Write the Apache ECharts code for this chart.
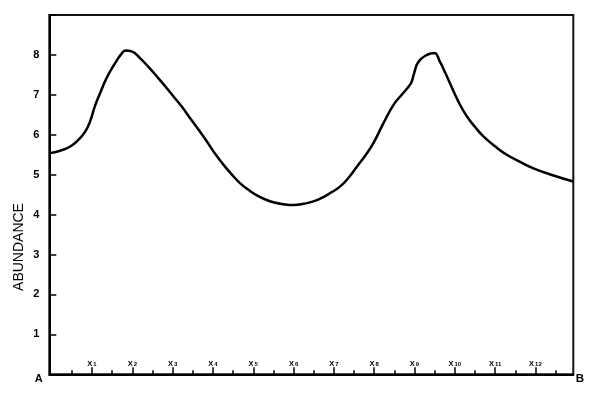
<!DOCTYPE html>
<html>
<head>
<meta charset="utf-8">
<script src="https://cdn.jsdelivr.net/npm/echarts@6/dist/echarts.min.js"></script>
<style>html,body{margin:0;padding:0;background:#fff}#c{width:600px;height:399px}</style>
</head>
<body>
<div id="c"></div>
<script>
// Curve samples (position along A–B, abundance)
const xs = [-0.06, 0.21, 0.45, 0.66, 0.83, 0.95, 1.07, 1.20, 1.36, 1.57, 1.74, 1.84, 1.98, 2.19, 2.40, 2.61, 2.82, 3.02, 3.23, 3.43, 3.64, 3.85, 4.05, 4.26, 4.47, 4.67, 4.88, 5.09, 5.30, 5.50, 5.75, 6.00, 6.25, 6.49, 6.70, 6.91, 7.15, 7.37, 7.57, 7.78, 7.98, 8.23, 8.48, 8.70, 8.85, 8.93, 8.99, 9.10, 9.31, 9.49, 9.63, 9.76, 9.88, 10.09, 10.30, 10.50, 10.71, 11.00, 11.29, 11.62, 11.95, 12.45, 12.94];
const ys = [5.54, 5.60, 5.70, 5.87, 6.08, 6.33, 6.71, 7.04, 7.42, 7.79, 8.04, 8.11, 8.09, 7.92, 7.70, 7.46, 7.21, 6.96, 6.70, 6.42, 6.13, 5.83, 5.53, 5.25, 5.00, 4.79, 4.62, 4.48, 4.38, 4.31, 4.26, 4.24, 4.27, 4.33, 4.42, 4.54, 4.70, 4.93, 5.20, 5.48, 5.79, 6.29, 6.75, 7.02, 7.20, 7.33, 7.54, 7.83, 8.00, 8.05, 7.83, 7.56, 7.29, 6.83, 6.46, 6.20, 5.96, 5.71, 5.50, 5.32, 5.16, 4.98, 4.83];
// Sample-point ticks X1..X12 and intermediate minor ticks
const majorTicks = [1, 2, 3, 4, 5, 6, 7, 8, 9, 10, 11, 12];
const tickLabels = ['1', '2', '3', '4', '5', '6', '7', '8', '9', '10', '11', '12'];
const minorTicks = [0.5, 1.5, 2.5, 3.5, 4.5, 5.5, 6.5, 7.5, 8.5, 9.5, 10.5, 11.5, 12.5];
const yTicks = [1, 2, 3, 4, 5, 6, 7, 8];

const chart = echarts.init(document.getElementById('c'));
const FONT = '"Liberation Sans", Arial, sans-serif';
const X_MIN = -0.06, X_MAX = 12.94;

chart.setOption({
  animation: false,
  backgroundColor: '#fff',
  grid: { left: 49.3, right: 26.7, top: 15, bottom: 24.7, show: true, borderColor: '#111', borderWidth: 2, backgroundColor: 'transparent' },
  xAxis: [
    {
      type: 'value', min: X_MIN, max: X_MAX, position: 'bottom', offset: 0,
      axisLine: { show: true, onZero: false, lineStyle: { color: '#000', width: 2 } },
      axisTick: { show: true, inside: true, length: 7, customValues: majorTicks, lineStyle: { color: '#000', width: 1.5 } },
      axisLabel: {
        show: true, inside: true, margin: 7, customValues: majorTicks,
        formatter: function (v) { const i = majorTicks.indexOf(Math.round(v)); return '{x|X}{s|' + tickLabels[i] + '}'; },
        rich: {
          x: { fontFamily: FONT, fontSize: 7.5, fontWeight: 'bold', color: '#000', lineHeight: 7, padding: [0, 0, 4, 0], verticalAlign: 'top' },
          s: { fontFamily: FONT, fontSize: 6, fontWeight: 'bold', color: '#000', lineHeight: 5, verticalAlign: 'bottom', padding: [0, 0, 0, 1] }
        }
      },
      splitLine: { show: false }
    },
    {
      type: 'value', min: X_MIN, max: X_MAX, position: 'bottom', offset: 0,
      axisLine: { show: false, onZero: false },
      axisTick: { show: true, inside: true, length: 4, customValues: minorTicks, lineStyle: { color: '#000', width: 1.5 } },
      axisLabel: { show: false },
      splitLine: { show: false }
    }
  ],
  yAxis: {
    type: 'value', min: 0, max: 9, interval: 1,
    axisLine: { show: true, onZero: false, lineStyle: { color: '#000', width: 2 } },
    axisTick: { show: true, inside: true, length: 7, lineStyle: { color: '#000', width: 1.5 } },
    axisLabel: {
      margin: 10, fontFamily: FONT, fontSize: 11, fontWeight: 'bold', color: '#000',
      formatter: function (v) { return yTicks.indexOf(v) >= 0 ? String(v) : ''; }
    },
    splitLine: { show: false }
  },
  graphic: [
    { type: 'text', x: 19, y: 247, rotation: Math.PI / 2, style: { text: 'ABUNDANCE', fontFamily: FONT, fontSize: 14, fill: '#000', align: 'center', verticalAlign: 'middle' } },
    { type: 'text', x: 38.7, y: 378.5, style: { text: 'A', fontFamily: FONT, fontSize: 11, fontWeight: 'bold', fill: '#000', align: 'center', verticalAlign: 'middle' } },
    { type: 'text', x: 580, y: 378.5, style: { text: 'B', fontFamily: FONT, fontSize: 11.5, fontWeight: 'bold', fill: '#000', align: 'center', verticalAlign: 'middle' } }
  ],
  series: [{
    type: 'line', xAxisIndex: 0, smooth: 0.5, symbol: 'none',
    lineStyle: { color: '#000', width: 2.5 },
    data: xs.map(function (x, i) { return [x, ys[i]]; })
  }]
});
</script>
</body>
</html>
